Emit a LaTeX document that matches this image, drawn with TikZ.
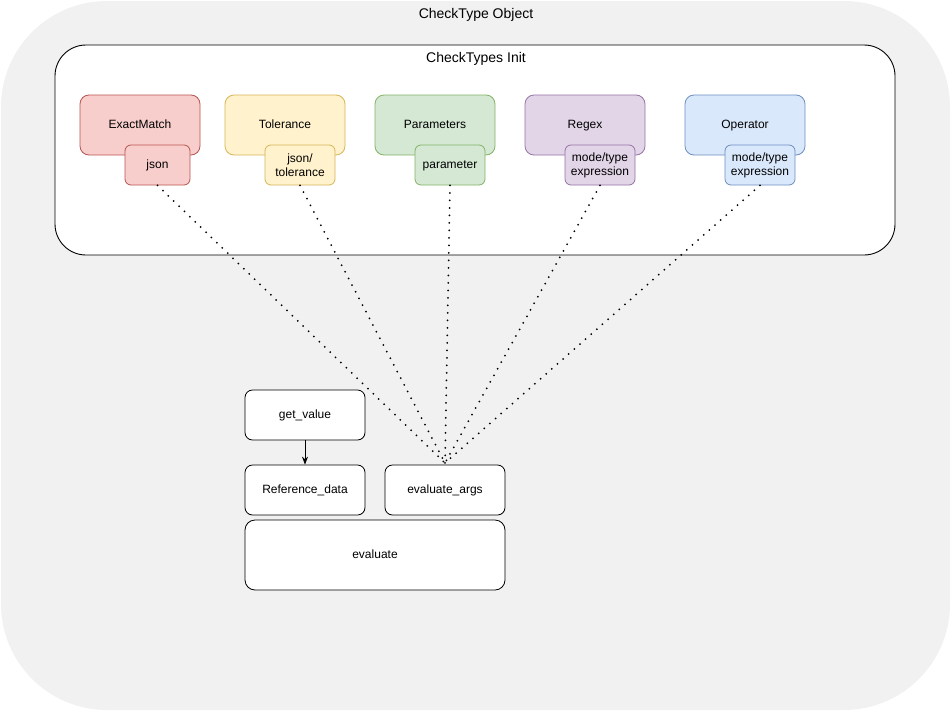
\documentclass[tikz,border=0pt]{standalone}
\usepackage{fontspec}
\setmainfont{Liberation Sans}
\usetikzlibrary{arrows.meta}
\definecolor{outerfill}{HTML}{F1F1F1}
\definecolor{redfill}{HTML}{F8CECC}\definecolor{redline}{HTML}{B85450}
\definecolor{yelfill}{HTML}{FFF2CC}\definecolor{yelline}{HTML}{D6B656}
\definecolor{grnfill}{HTML}{D5E8D4}\definecolor{grnline}{HTML}{82B366}
\definecolor{purfill}{HTML}{E1D5E7}\definecolor{purline}{HTML}{9673A6}
\definecolor{blufill}{HTML}{DAE8FC}\definecolor{bluline}{HTML}{6C8EBF}
\begin{document}
\begin{tikzpicture}[x=1pt,y=-1pt,
  every node/.style={font=\fontsize{12}{14}\selectfont, inner sep=0pt, align=center},
  typebox/.style={draw=#1line, fill=#1fill, line width=0.8pt, rounded corners=9pt,
    minimum width=120pt, minimum height=60pt},
  argbox/.style 2 args={draw=#1line, fill=#1fill, line width=0.8pt, rounded corners=6pt,
    minimum width=#2, minimum height=40pt},
  plainbox/.style={draw=black, fill=white, line width=0.8pt, rounded corners=7.5pt},
  label/.style={text height=8.6pt, text depth=1pt},
  title/.style={font=\fontsize{14}{16}\selectfont},
  link/.style={line width=2pt, dash pattern=on 0pt off 7.5pt, line cap=round}
]
\useasboundingbox (0,0) rectangle (952,712);
% outer object frame
\fill[outerfill, rounded corners=106pt] (1,1) rectangle (950,710);
\node[title, label] at (476,15) {CheckType Object};
% init frame
\draw[fill=white, line width=0.9pt, rounded corners=31pt] (55,45) rectangle (895,255);
\node[title, label] at (476,59) {CheckTypes Init};

% check types with their arguments
\node[typebox=red] (em) at (140,125) {};
\node[label] at (140,125) {ExactMatch};
\node[argbox={red}{65pt}, label] (emA) at (157.5,165) {json};

\node[typebox=yel] (tol) at (285,125) {};
\node[label] at (285,125) {Tolerance};
\node[argbox={yel}{70pt}] (tolA) at (300,165) {json/\\tolerance};

\node[typebox=grn] (par) at (435,125) {};
\node[label] at (435,125) {Parameters};
\node[argbox={grn}{70pt}, label] (parA) at (450,165) {parameter};

\node[typebox=pur] (rgx) at (585,125) {};
\node[label] at (585,125) {Regex};
\node[argbox={pur}{70pt}] (rgxA) at (600,165) {mode/type\\expression};

\node[typebox=blu] (op) at (745,125) {};
\node[label] at (745,125) {Operator};
\node[argbox={blu}{70pt}] (opA) at (760,165) {mode/type\\expression};

% evaluation blocks
\node[plainbox, label, minimum width=120pt, minimum height=50pt] (gv) at (305,415) {get\_value};
\node[plainbox, label, minimum width=120pt, minimum height=50pt] (rd) at (305,490) {Reference\_data};
\node[plainbox, label, minimum width=120pt, minimum height=50pt] (ea) at (445,490) {evaluate\_args};
\node[plainbox, label, rounded corners=10pt, minimum width=260pt, minimum height=70pt] (ev) at (375,555) {evaluate};

\coordinate (hub) at (445,463);
\draw[-{Stealth[length=8pt,width=6pt]}, line width=0.8pt] (gv) -- (rd);
\foreach \a in {emA,tolA,parA,rgxA,opA}
  \draw[link] (\a.south) -- (hub);
\end{tikzpicture}
\end{document}
